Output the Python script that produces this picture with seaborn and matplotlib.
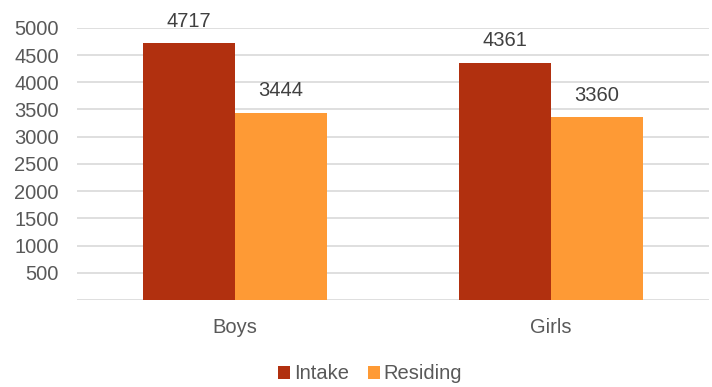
import pandas as pd
import matplotlib
matplotlib.use("Agg")
import matplotlib.pyplot as plt
import seaborn as sns

# -----------------------------
# Data
# -----------------------------
categories = ["Boys", "Girls"]
series = ["Intake", "Residing"]
intake = [4717, 4361]
residing = [3444, 3360]
colors = ["#B1300F", "#FE9A35"]
y_ticks = [500, 1000, 1500, 2000, 2500, 3000, 3500, 4000, 4500, 5000]

df = pd.DataFrame({
    "group": categories * 2,
    "series": [series[0]] * 2 + [series[1]] * 2,
    "value": intake + residing,
})

# -----------------------------
# Style
# -----------------------------
sns.set_theme(style="white")
plt.rcParams["font.family"] = ["Liberation Sans", "DejaVu Sans"]
FS = 14.5

fig = plt.figure(figsize=(7.12, 3.87), dpi=100)
ax = fig.add_axes([0.108, 0.225, 0.888, 0.703])

sns.barplot(
    data=df, x="group", y="value", hue="series",
    hue_order=series, order=categories,
    palette=colors, width=0.58, gap=0, saturation=1,
    linewidth=0, legend=True, ax=ax,
)

for container in ax.containers:
    ax.bar_label(container, fmt="%d", padding=9, fontsize=FS,
                 color="#404040", clip_on=False)

ax.set_ylim(0, 5000)
ax.set_yticks(y_ticks)
ax.set_yticklabels([str(t) for t in y_ticks])
ax.set_xlim(-0.5, 1.5)
ax.set_xlabel("")
ax.set_ylabel("")

ax.yaxis.grid(True, color="#D9D9D9", linewidth=1.2)
ax.set_axisbelow(True)
ax.axhline(0, color="#D9D9D9", linewidth=1.2, zorder=0)
for side in ["top", "right", "left", "bottom"]:
    ax.spines[side].set_visible(False)

ax.tick_params(axis="y", length=0, pad=13, labelsize=FS, labelcolor="#595959")
ax.tick_params(axis="x", length=0, pad=13, labelsize=FS, labelcolor="#595959")

leg = ax.legend(
    loc="center", bbox_to_anchor=(0.52, 0.034),
    bbox_transform=fig.transFigure, ncol=2, frameon=False,
    fontsize=FS, handlelength=0.6, handleheight=0.6,
    handletextpad=0.2, columnspacing=0.9,
)
for text in leg.get_texts():
    text.set_color("#595959")

fig.savefig("out.png", dpi=100)
